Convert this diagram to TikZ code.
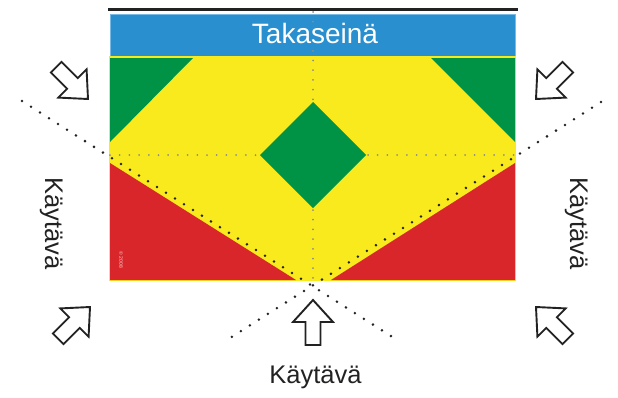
\documentclass[tikz,border=0pt]{standalone}
\usepackage{fontspec}
\setmainfont{Liberation Sans}
\definecolor{wallblue}{RGB}{41,143,207}
\definecolor{wallrim}{RGB}{120,185,230}
\definecolor{fieldyellow}{RGB}{249,234,30}
\definecolor{zonegreen}{RGB}{0,146,69}
\definecolor{zonered}{RGB}{216,38,42}
\definecolor{inkdark}{RGB}{34,34,34}
\tikzset{
  zone/.style={draw=none},
  griddots/.style={draw=gray!90, line width=2pt, line cap=round, dash pattern=on 0pt off 9.7pt},
  sightdots/.style={draw=inkdark, line width=2.8pt, line cap=round, dash pattern=on 0pt off 10.67pt},
  arrowline/.style={draw=inkdark, line width=1.9pt, line join=miter, fill=white},
  blockarrow/.pic={
    \path[arrowline] (0,0) -- (20,22) -- (7.5,22) -- (7.5,45) -- (-7.5,45)
      -- (-7.5,22) -- (-20,22) -- cycle;
  },
  corridor/.style={text=inkdark, font=\fontsize{25.5}{28}\selectfont, inner sep=0pt},
}
\begin{document}
\begin{tikzpicture}[x=1pt, y=-1pt]
\useasboundingbox (0,0) rectangle (618,397);

% key points of the field
\coordinate (tl) at (110,58);
\coordinate (tr) at (515,58);
\coordinate (bl) at (110,280);
\coordinate (br) at (515,280);

% back wall
\draw[inkdark, line width=2.6pt] (108,9.5) -- (518,9.5);
\path[fill=wallblue, draw=wallrim, line width=0.8pt] (110,14) rectangle (515,56);

% playing field
\path[fill=fieldyellow] (109,55.5) rectangle (516,281);
\path[fill=zonegreen] (tl) -- (193,58) -- (110,142) -- cycle;
\path[fill=zonegreen] (tr) -- (431,58) -- (515,142) -- cycle;
\path[fill=zonered] (110,163) -- (bl) -- (296,280) -- cycle;
\path[fill=zonered] (515,163) -- (br) -- (331,280) -- cycle;
\path[fill=zonegreen] (313,102) -- (366,155) -- (313,208) -- (260,155) -- cycle;

% centre lines
\path[griddots] (313,12) -- (313,100);
\path[griddots] (313,210) -- (313,280);
\path[griddots] (110,155) -- (258,155);
\path[griddots] (368,155) -- (515,155);

% sight lines
\path[sightdots] (22,101) -- (394,338);
\path[sightdots] (601,102) -- (230,338);

% small copyright mark
\node[text=white!80!zonered, font=\fontsize{5}{6}\selectfont, rotate=-90, inner sep=0pt] (mark) at (121,260) {© 2008};

% labels
\node[text=white, font=\fontsize{28}{30}\selectfont, anchor=base, inner sep=0pt] (wall) at (315,43) {Takaseinä};
\node[corridor, anchor=base] (bottomlabel) at (315.5,383) {Käytävä};
\node[corridor, anchor=base, rotate=-90] (leftlabel) at (45,223.5) {Käytävä};
\node[corridor, anchor=base, rotate=-90] (rightlabel) at (570,223.5) {Käytävä};

% entry arrows
\pic[rotate=-135] at (88,99) {blockarrow};
\pic[rotate=135] at (536,99) {blockarrow};
\pic[rotate=-45] at (90,307) {blockarrow};
\pic[rotate=45] at (536,307) {blockarrow};
\pic at (313,300) {blockarrow};
\end{tikzpicture}
\end{document}
